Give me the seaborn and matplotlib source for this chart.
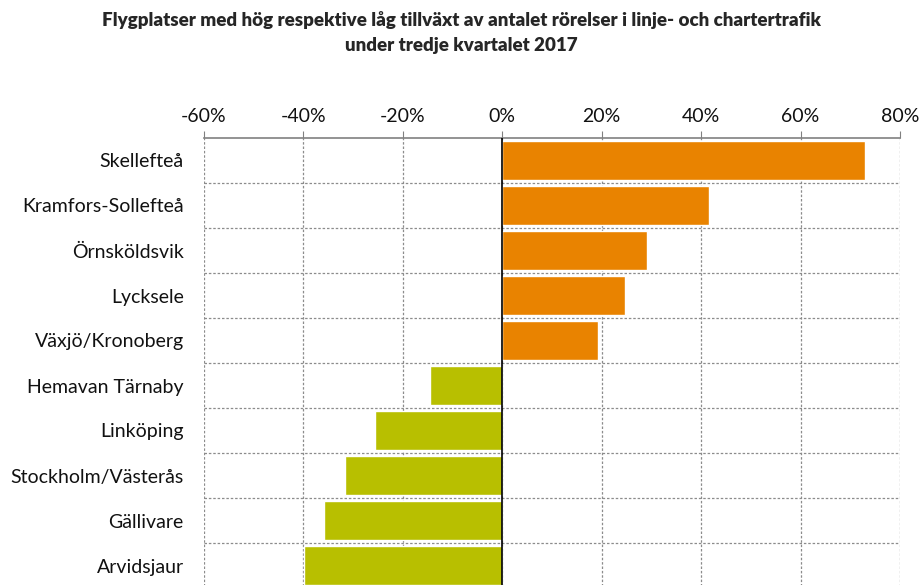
import numpy as np
import pandas as pd
import seaborn as sns
import matplotlib.pyplot as plt
from matplotlib.ticker import FixedLocator, PercentFormatter

airports = ['Skellefteå', 'Kramfors-Sollefteå', 'Örnsköldsvik', 'Lycksele', 'Växjö/Kronoberg',
            'Hemavan Tärnaby', 'Linköping', 'Stockholm/Västerås', 'Gällivare', 'Arvidsjaur']
growth = [73.0, 41.6, 29.2, 24.7, 19.3, -14.5, -25.6, -31.6, -35.8, -39.9]
groups = ['hög' if g > 0 else 'låg' for g in growth]
xticks = [-60, -40, -20, 0, 20, 40, 60, 80]

sns.set_style('white')
plt.rcParams['font.family'] = ['Lato', 'DejaVu Sans']
plt.rcParams['axes.unicode_minus'] = False

df = pd.DataFrame({'flygplats': airports, 'tillvaxt': growth, 'grupp': groups})

fig = plt.figure(figsize=(9.22, 5.85), dpi=100)
ax = fig.add_axes([204 / 922, -3 / 585, 696 / 922, 450 / 585])

sns.barplot(data=df, x='tillvaxt', y='flygplats', hue='grupp', orient='h',
            palette={'hög': '#E98300', 'låg': '#B8BF00'}, dodge=False, saturation=1,
            width=0.86, legend=False, ax=ax, zorder=3)

ax.set_xlim(-60, 80)
ax.set_ylim(len(airports) - 0.5, -0.5)
ax.xaxis.set_major_locator(FixedLocator(xticks))
ax.xaxis.set_major_formatter(PercentFormatter(decimals=0))
ax.xaxis.tick_top()
ax.tick_params(axis='x', top=True, bottom=False, length=5, color='#808080',
               labelsize=14, pad=4, labelcolor='#111111')
ax.tick_params(axis='y', left=False, labelsize=14, pad=11, labelcolor='#111111')
ax.yaxis.set_minor_locator(FixedLocator(np.arange(0.5, len(airports) - 0.5, 1)))
ax.set_xlabel('')
ax.set_ylabel('')

ax.grid(axis='x', which='major', linestyle=(0, (2, 1.5)), color='#8c8c8c', linewidth=0.9, zorder=0)
ax.grid(axis='y', which='minor', linestyle=(0, (2, 1.5)), color='#8c8c8c', linewidth=0.9, zorder=0)
ax.grid(axis='y', which='major', visible=False)
ax.axvline(0, color='black', linewidth=1.2, zorder=4)

for side in ['left', 'right', 'bottom']:
    ax.spines[side].set_visible(False)
ax.spines['top'].set_color('#808080')
ax.spines['top'].set_linewidth(1.2)

fig.text(0.5, 0.982, 'Flygplatser med hög respektive låg tillväxt av antalet rörelser i linje- och chartertrafik\nunder tredje kvartalet 2017',
         ha='center', va='top', fontsize=13.5, fontweight='heavy', linespacing=1.6)

fig.savefig('out.png', dpi=100)
